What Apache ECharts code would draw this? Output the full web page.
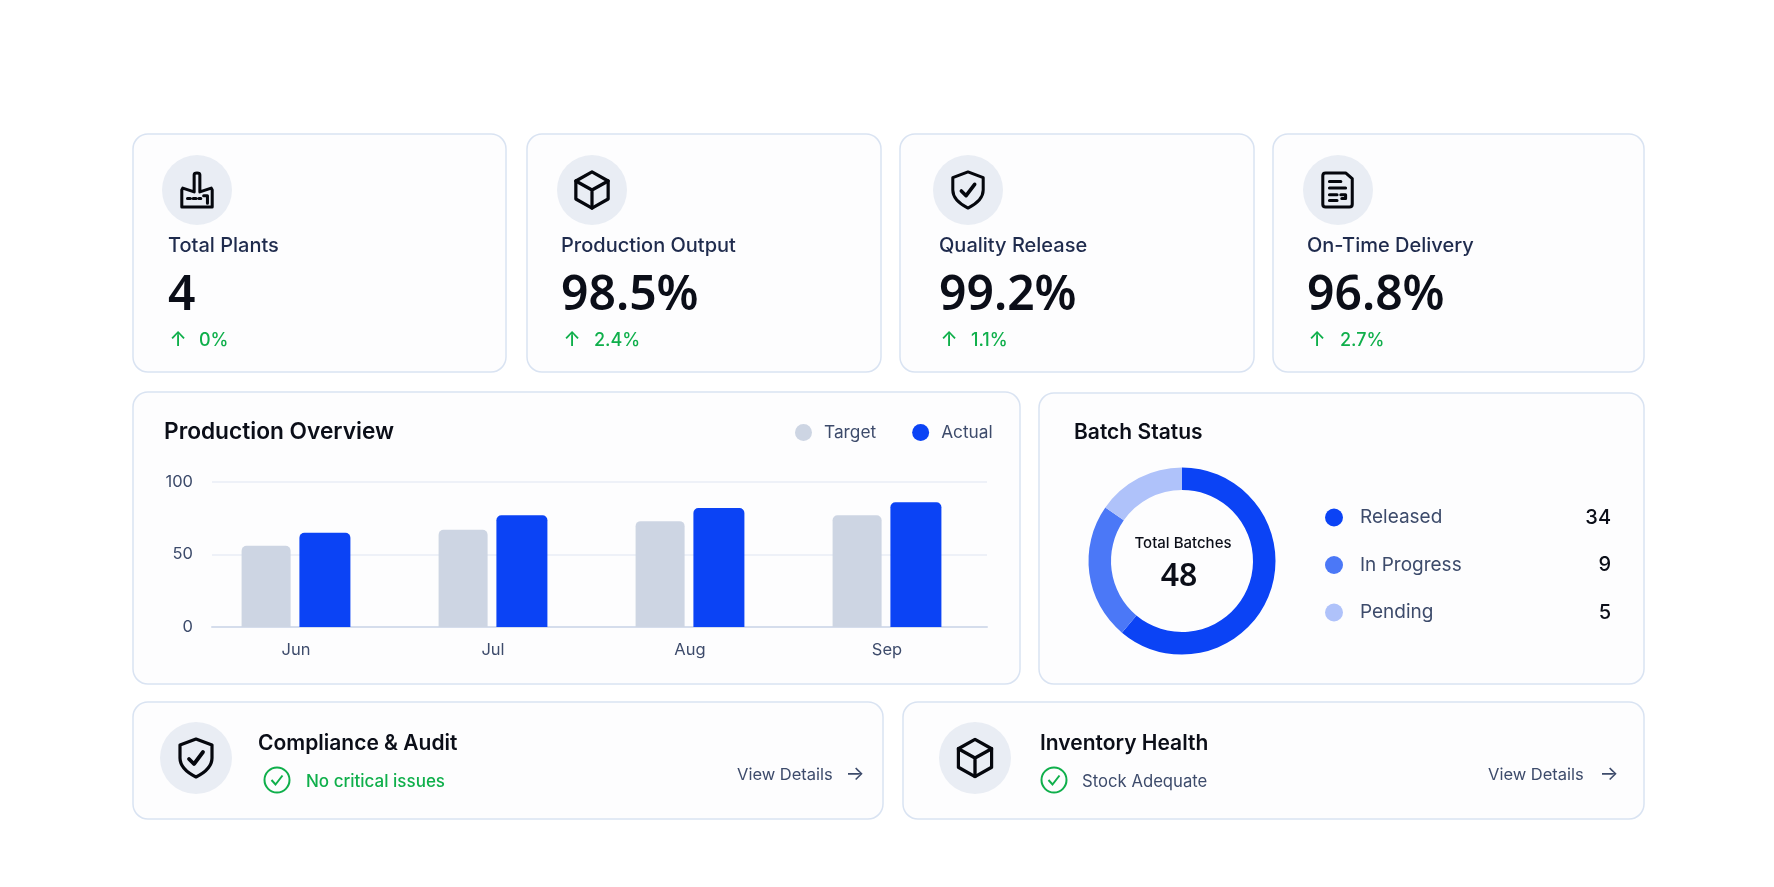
<!DOCTYPE html>
<html><head><meta charset="utf-8">
<style>html,body{margin:0;padding:0;background:#fff}#c{width:1774px;height:887px}</style>
<script src="https://cdn.jsdelivr.net/npm/echarts@6/dist/echarts.min.js"></script>
</head><body><div id="c"></div>
<script>
const months = ['Jun','Jul','Aug','Sep'];
const targetValues = [56,67,73,77];
const actualValues = [65,77,82,86];
const yTicks = [0,50,100];
const batchNames = ['Released','In Progress','Pending'];
const batchCounts = [34,9,5];
// The reference's arcs are not proportional to its printed counts, so the
// arc sizes are read from the drawn ring (percent of the circle) and the counts are labels.
const batchArcShares = [61.1,23.6,15.3];
const batchTotal = 48;
const kpiLabels = ['Total Plants','Production Output','Quality Release','On-Time Delivery'];
const kpiValues = ['4','98.5%','99.2%','96.8%'];
const kpiDeltas = ['0%','2.4%','1.1%','2.7%'];

const FONT='Inter', NUM='"Noto Sans"', BLUE='#0B43F5', MID='#4B78F7', PALE='#AFC2FA', GREY='#CDD5E3',
      GREEN='#0FAF4B', INK='#0B0E18', NAVY='#1F2B4D', SLATE='#3D4B6B', BORDER='#D9E3F2', DISC='#E9EDF4';

const svg=(w,h,body,sw)=>'data:image/svg+xml;utf8,'+encodeURIComponent(
 `<svg xmlns="http://www.w3.org/2000/svg" width="${w}" height="${h}" viewBox="0 0 ${w} ${h}"><g fill="none" stroke="#05070D" stroke-width="${sw}" stroke-linejoin="round" stroke-linecap="round">${body}</g></svg>`);
const ICON={
 factory:[36,40,'<path d="M2 38V20L3 18L15 22V4Q15 2 18 2Q21 2 21 4V22L33 18L34 20V38Z"/><path d="M8 29H11M14 29H17M20 29H22M25 26H29V34"/>',3.2],
 cube:[38,42,'<path d="M19 2L36 11.500V30.500L19 40L2 30.500V11.500Z"/><path d="M2 11.500L19 21L36 11.500M19 21V40"/>',3.4],
 shield:[36,42,'<path d="M18 2L34 8V21C34 30 26 36 18 40C10 36 2 30 2 21V8Z"/><path d="M11 22L16 27L25 15" stroke-width="3.800"/>',3.2],
 doc:[36,40,'<path d="M5 2H26L33 8V35Q33 38 30 38H5Q2 38 2 35V5Q2 2 5 2Z"/><path d="M9 11H21M9 18H26M9 25H17M21 25H26V29H22M9 31H17"/>',3.2]
};

const g=[];
const T=(text,x,y,size,weight,fill,align,fam)=>g.push({type:'text',x,y,z:10,style:{text,font:`${weight} ${size}px ${fam||FONT}`,fill,textAlign:align||'left',textVerticalAlign:'middle'}});
const card=(x0,y0,x1,y1)=>g.push({type:'rect',z:-10,shape:{x:x0,y:y0,width:x1-x0,height:y1-y0,r:15},style:{fill:'#FDFDFE',stroke:BORDER,lineWidth:1.5}});
const disc=(x,y,r)=>g.push({type:'circle',z:-5,shape:{cx:x,cy:y,r},style:{fill:DISC}});
const icon=(name,cx,cy,scale)=>{const [w,h,b,sw]=ICON[name];const W=w*scale,H=h*scale;
  g.push({type:'image',z:10,x:cx-W/2,y:cy-H/2,style:{image:svg(w,h,b,sw),width:W,height:H}});};
const check=(x,y,r)=>{g.push({type:'circle',z:10,shape:{cx:x,cy:y,r},style:{fill:'none',stroke:GREEN,lineWidth:2}});
  g.push({type:'polyline',z:10,shape:{points:[[x-5.500,y],[x-1.500,y+4.500],[x+5.500,y-4.500]]},style:{fill:'none',stroke:GREEN,lineWidth:2}});};

// KPI row
const kpiCards=[[133,134,506,372],[527,134,881,372],[900,134,1254,372],[1273,134,1644,372]];
const kpiDisc=[197,592,968,1338], kpiText=[168,561,939,1307], kpiArrow=[178,572,949,1317], kpiDelta=[199,594,971,1340];
const kpiIcons=['factory','cube','shield','doc'];
kpiLabels.forEach((l,i)=>{
  card(...kpiCards[i]); disc(kpiDisc[i],190,35); icon(kpiIcons[i],kpiDisc[i],190,0.95);
  T(l,kpiText[i],245.500,20,500,NAVY);
  T(kpiValues[i],kpiText[i],296,48,600,INK,'left',NUM);
  T('↑',kpiArrow[i],340,20,500,GREEN,'center');
  T(kpiDeltas[i],kpiDelta[i],340.500,18,500,GREEN);
});
// middle cards
card(133,392,1020,684); card(1039,393,1644,684);
T('Production Overview',164,432,22.700,600,INK);
T('Batch Status',1074,432.500,21,600,INK);
T('Total Batches',1183,543,15,500,INK,'center');
T(String(batchTotal),1179,577,32,600,INK,'center',NUM);
// bottom cards
card(133,702,883,819); card(903,702,1644,819);
disc(196,758,36); icon('shield',196,758,1); disc(975,758,36); icon('cube',975,758,0.98);
T('Compliance & Audit',258,744,21,600,INK);
T('Inventory Health',1040,744,21,600,INK);
check(277,780,12.5); check(1054,780,12.5);
T('No critical issues',306,781.500,17,500,GREEN);
T('Stock Adequate',1082,781.500,16.700,400,SLATE);
T('View Details',737,775,16.500,400,SLATE);
T('→',855,773.500,20,400,SLATE,'center');
T('View Details',1488,775,16.500,400,SLATE);
T('→',1609,773.500,20,400,SLATE,'center');

const chart=echarts.init(document.getElementById('c'),null,{width:1774,height:887});
chart.setOption({
 animation:false, backgroundColor:'#fff', textStyle:{fontFamily:FONT},
 graphic:{elements:g},
 legend:[
  // itemWidth is wider than the dot: the dot stays itemHeight wide and the wider slot sets the gap to the text
  {left:790,top:419,icon:'circle',itemWidth:31,itemHeight:17,itemGap:36,selectedMode:false,
   data:['Target','Actual'],textStyle:{fontFamily:FONT,fontSize:17.300,color:SLATE}},
  {left:1320,top:502.500,orient:'vertical',icon:'circle',itemWidth:42,itemHeight:18,itemGap:27.500,selectedMode:false,
   data:batchNames,
   formatter:n=>`{n|${n}}{v|${batchCounts[batchNames.indexOf(n)]}}`,
   textStyle:{rich:{n:{fontFamily:FONT,fontSize:19,color:SLATE,width:200},v:{fontFamily:FONT,fontSize:20,fontWeight:500,color:INK,width:51,align:'right'}}}}
 ],
 grid:[{left:212,width:775,top:482,height:145},{left:197.500,width:788,top:482,height:145}],
 xAxis:[
  {type:'category',gridIndex:0,data:months,axisLabel:{show:false},axisTick:{show:false},axisLine:{lineStyle:{color:'#D5DDEC',width:2}}},
  {type:'category',gridIndex:1,data:months,axisTick:{show:false},axisLine:{show:false},
   axisLabel:{margin:15,fontFamily:FONT,fontSize:16.500,color:SLATE}}
 ],
 yAxis:[
  {type:'value',gridIndex:0,min:yTicks[0],max:yTicks[2],interval:yTicks[1],axisLine:{show:false},axisTick:{show:false},
   axisLabel:{margin:19,fontFamily:FONT,fontSize:16.500,color:SLATE},splitLine:{lineStyle:{color:'#EEF1F8',width:2}}},
  {type:'value',gridIndex:1,min:yTicks[0],max:yTicks[2],interval:yTicks[1],show:false}
 ],
 series:[
  {name:'Target',type:'bar',xAxisIndex:1,yAxisIndex:1,data:targetValues,barWidth:49,barGap:'18%',itemStyle:{color:GREY,borderRadius:[5,5,0,0]},silent:true},
  {name:'Actual',type:'bar',xAxisIndex:1,yAxisIndex:1,data:actualValues,barWidth:51,barGap:'18%',itemStyle:{color:BLUE,borderRadius:[5,5,0,0]},silent:true},
  {name:'Batch Status',type:'pie',center:[1182,561],radius:[71,93.500],startAngle:90,silent:true,label:{show:false},labelLine:{show:false},
   data:batchNames.map((n,i)=>({name:n,value:batchArcShares[i],itemStyle:{color:[BLUE,MID,PALE][i]}}))}
 ]
});
</script></body></html>
